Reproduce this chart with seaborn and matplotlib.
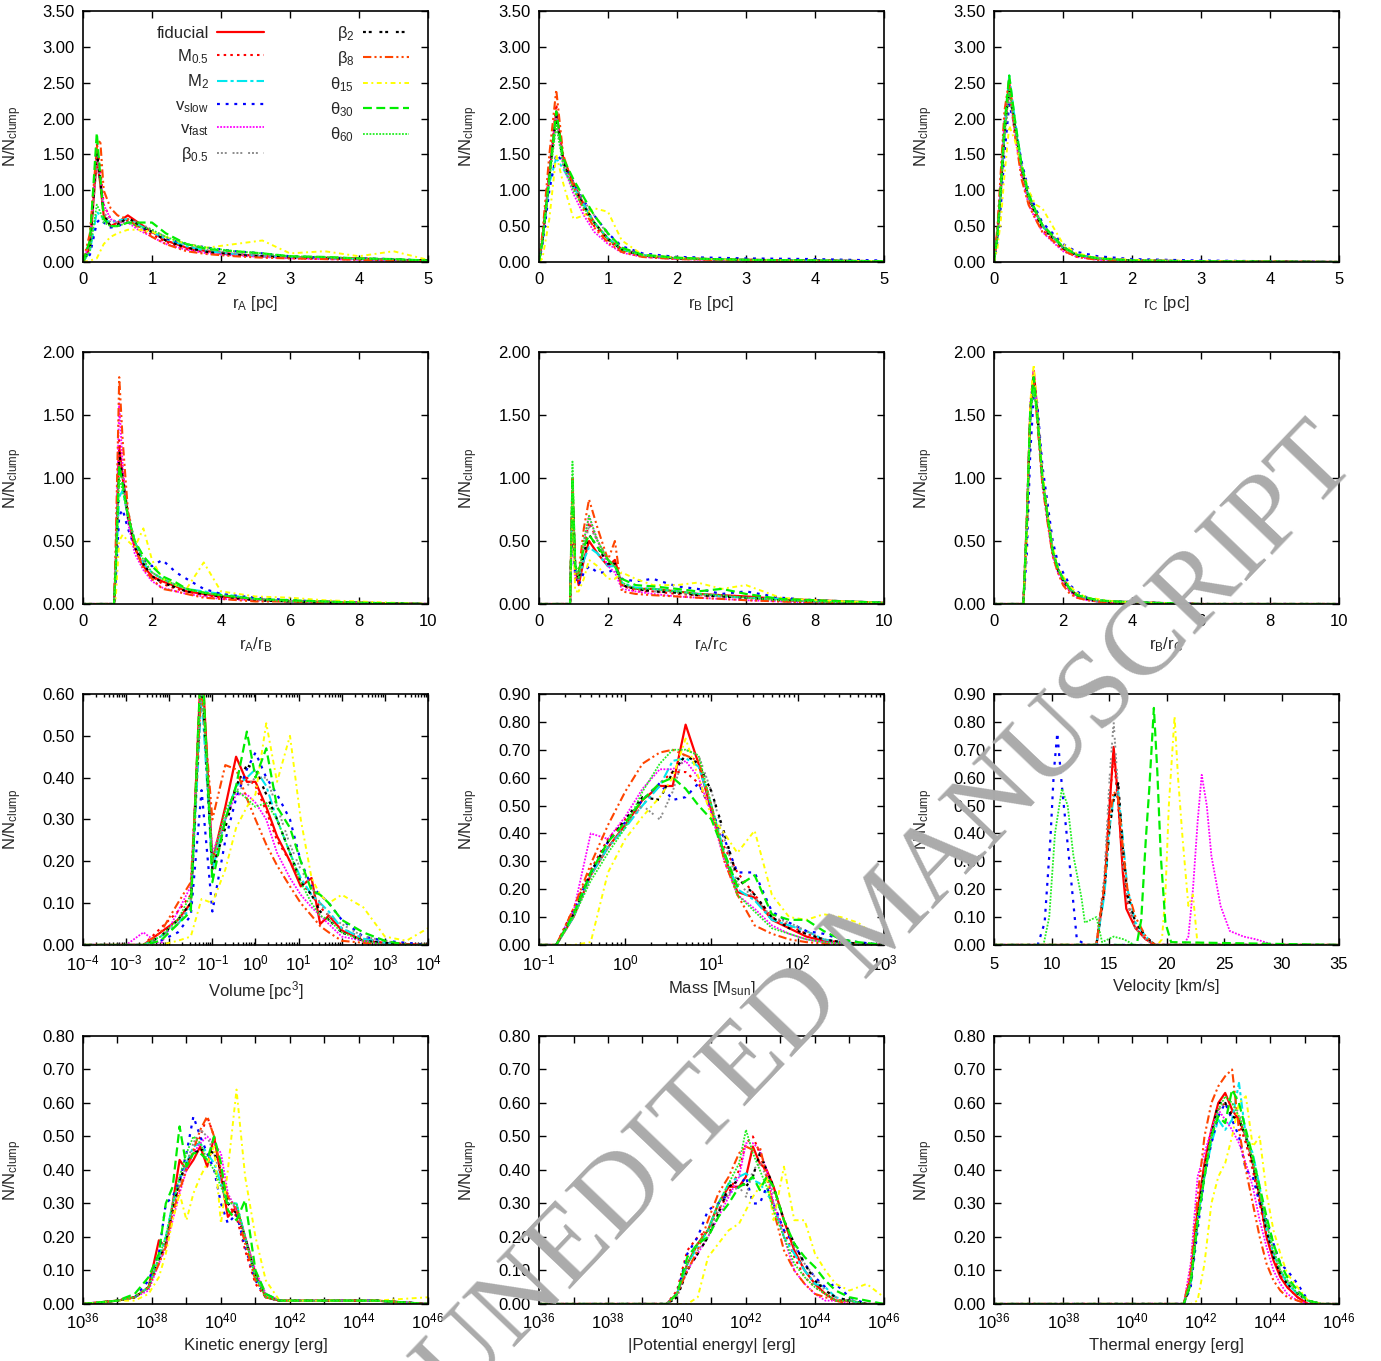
import numpy as np
import matplotlib
matplotlib.use('Agg')
import matplotlib.pyplot as plt
import seaborn as sns
from matplotlib.ticker import (FixedLocator, FuncFormatter, LogLocator, NullLocator,
                               FormatStrFormatter, MultipleLocator)

# ---------------------------------------------------------------- series
SERIES = ['fiducial', 'M$_{0.5}$', 'M$_{2}$', r'v$_{\rm slow}$', r'v$_{\rm fast}$',
          'β$_{0.5}$', 'β$_{2}$', 'β$_{8}$', 'θ$_{15}$', 'θ$_{30}$', 'θ$_{60}$']

# ---------------------------------------------------------------- panel 1: r_A [pc]
RA_X = [0, 0.1, 0.2, 0.25, 0.3, 0.4, 0.5, 0.65, 0.8, 1.0, 1.2, 1.5, 1.8, 2.2, 2.6, 3.0, 3.5, 4.0, 4.5, 5.0]
RA_Y = [
    [0, 0.2, 1.45, 1.1, 0.65, 0.5, 0.55, 0.65, 0.55, 0.42, 0.3, 0.2, 0.15, 0.11, 0.08, 0.07, 0.06, 0.05, 0.03, 0.02],
    [0, 0.3, 1.65, 1.3, 0.8, 0.6, 0.55, 0.58, 0.5, 0.38, 0.28, 0.18, 0.13, 0.1, 0.08, 0.06, 0.05, 0.04, 0.03, 0.02],
    [0, 0.15, 0.7, 0.65, 0.6, 0.55, 0.58, 0.6, 0.52, 0.42, 0.32, 0.22, 0.15, 0.11, 0.08, 0.07, 0.05, 0.04, 0.03, 0.02],
    [0, 0.1, 0.55, 0.6, 0.55, 0.48, 0.5, 0.55, 0.5, 0.42, 0.33, 0.25, 0.2, 0.15, 0.12, 0.08, 0.06, 0.05, 0.04, 0.02],
    [0, 0.3, 1.5, 1.2, 0.8, 0.6, 0.55, 0.55, 0.45, 0.35, 0.25, 0.17, 0.12, 0.09, 0.07, 0.05, 0.04, 0.03, 0.02, 0.01],
    [0, 0.2, 1.4, 1.1, 0.7, 0.55, 0.55, 0.6, 0.55, 0.45, 0.35, 0.25, 0.17, 0.12, 0.09, 0.07, 0.05, 0.04, 0.03, 0.02],
    [0, 0.2, 1.55, 1.15, 0.65, 0.5, 0.52, 0.62, 0.52, 0.42, 0.3, 0.2, 0.14, 0.1, 0.08, 0.06, 0.05, 0.04, 0.03, 0.02],
    [0, 0.4, 1.6, 1.7, 1.0, 0.75, 0.65, 0.6, 0.48, 0.35, 0.25, 0.15, 0.11, 0.08, 0.06, 0.05, 0.04, 0.03, 0.02, 0.01],
    [0, 0.02, 0.05, 0.15, 0.25, 0.35, 0.4, 0.45, 0.45, 0.42, 0.35, 0.25, 0.2, 0.25, 0.3, 0.12, 0.15, 0.08, 0.15, 0.03],
    [0, 0.3, 1.8, 1.2, 0.6, 0.5, 0.5, 0.55, 0.55, 0.55, 0.4, 0.25, 0.18, 0.15, 0.12, 0.08, 0.07, 0.05, 0.04, 0.02],
    [0, 0.15, 0.8, 0.7, 0.55, 0.5, 0.5, 0.55, 0.5, 0.45, 0.35, 0.25, 0.2, 0.15, 0.12, 0.08, 0.07, 0.05, 0.04, 0.02],
]

# ---------------------------------------------------------------- panel 2: r_B [pc]
RB_X = [0, 0.05, 0.15, 0.25, 0.35, 0.5, 0.65, 0.8, 1.0, 1.2, 1.5, 2.0, 2.5, 3.0, 4.0, 5.0]
RB_Y = [
    [0, 0.3, 1.2, 2.1, 1.45, 1.1, 0.8, 0.55, 0.32, 0.18, 0.09, 0.05, 0.04, 0.03, 0.02, 0.01],
    [0, 0.35, 1.3, 2.2, 1.4, 1.05, 0.75, 0.5, 0.3, 0.16, 0.08, 0.05, 0.03, 0.03, 0.02, 0.01],
    [0, 0.3, 1.1, 1.45, 1.3, 1.05, 0.8, 0.55, 0.33, 0.18, 0.1, 0.05, 0.04, 0.03, 0.02, 0.01],
    [0, 0.25, 1.0, 1.5, 1.4, 1.1, 0.85, 0.65, 0.4, 0.22, 0.12, 0.07, 0.06, 0.05, 0.04, 0.02],
    [0, 0.35, 1.3, 2.1, 1.35, 0.95, 0.65, 0.42, 0.25, 0.13, 0.07, 0.04, 0.03, 0.02, 0.01, 0.01],
    [0, 0.3, 1.15, 2.0, 1.4, 1.1, 0.85, 0.65, 0.38, 0.2, 0.1, 0.06, 0.04, 0.03, 0.02, 0.01],
    [0, 0.3, 1.2, 2.05, 1.4, 1.05, 0.78, 0.55, 0.32, 0.17, 0.09, 0.05, 0.04, 0.03, 0.02, 0.01],
    [0, 0.4, 1.5, 2.4, 1.5, 1.05, 0.72, 0.48, 0.27, 0.14, 0.07, 0.04, 0.03, 0.02, 0.01, 0.01],
    [0, 0.05, 0.6, 1.5, 1.1, 0.6, 0.65, 0.75, 0.7, 0.3, 0.1, 0.06, 0.04, 0.03, 0.02, 0.01],
    [0, 0.3, 1.2, 2.1, 1.45, 1.15, 0.9, 0.65, 0.4, 0.2, 0.1, 0.06, 0.04, 0.03, 0.02, 0.01],
    [0, 0.3, 1.15, 1.9, 1.35, 1.0, 0.75, 0.55, 0.32, 0.17, 0.09, 0.05, 0.04, 0.03, 0.02, 0.01],
]

# ---------------------------------------------------------------- panel 3: r_C [pc]
RC_X = [0, 0.05, 0.1, 0.15, 0.22, 0.3, 0.4, 0.5, 0.6, 0.7, 0.85, 1.0, 1.2, 1.5, 2.0, 3.0, 5.0]
RC_Y = [
    [0, 0.4, 1.0, 1.8, 2.5, 1.9, 1.3, 0.9, 0.7, 0.5, 0.35, 0.2, 0.1, 0.05, 0.02, 0.01, 0.0],
    [0, 0.4, 1.1, 1.9, 2.4, 1.8, 1.25, 0.85, 0.65, 0.45, 0.3, 0.18, 0.09, 0.04, 0.02, 0.01, 0.0],
    [0, 0.35, 1.0, 1.8, 2.6, 2.0, 1.35, 0.9, 0.7, 0.5, 0.35, 0.2, 0.1, 0.05, 0.02, 0.01, 0.0],
    [0, 0.3, 0.8, 1.5, 2.2, 1.9, 1.4, 1.0, 0.75, 0.55, 0.4, 0.25, 0.14, 0.08, 0.04, 0.02, 0.0],
    [0, 0.45, 1.2, 2.0, 2.4, 1.8, 1.2, 0.8, 0.6, 0.42, 0.28, 0.15, 0.07, 0.03, 0.01, 0.01, 0.0],
    [0, 0.35, 0.95, 1.7, 2.3, 1.9, 1.35, 0.95, 0.72, 0.52, 0.37, 0.22, 0.11, 0.05, 0.02, 0.01, 0.0],
    [0, 0.4, 1.05, 1.8, 2.45, 1.9, 1.3, 0.9, 0.68, 0.48, 0.33, 0.19, 0.09, 0.05, 0.02, 0.01, 0.0],
    [0, 0.5, 1.3, 2.1, 2.55, 1.8, 1.15, 0.8, 0.6, 0.42, 0.3, 0.16, 0.07, 0.03, 0.01, 0.01, 0.0],
    [0, 0.2, 0.6, 1.2, 1.9, 1.7, 1.35, 1.0, 0.8, 0.75, 0.5, 0.25, 0.12, 0.06, 0.03, 0.01, 0.0],
    [0, 0.4, 1.1, 1.9, 2.6, 2.0, 1.35, 0.95, 0.72, 0.52, 0.37, 0.21, 0.1, 0.05, 0.02, 0.01, 0.0],
    [0, 0.35, 1.0, 1.75, 2.4, 1.9, 1.3, 0.9, 0.7, 0.5, 0.35, 0.2, 0.1, 0.05, 0.02, 0.01, 0.0],
]

# ---------------------------------------------------------------- panel 4: r_A/r_B
AB_X = [0, 0.9, 0.95, 1.05, 1.15, 1.3, 1.5, 1.75, 2.0, 2.3, 2.7, 3.0, 3.5, 4.0, 5.0, 6.0, 7.0, 8.0, 10.0]
AB_Y = [
    [0, 0, 0.3, 1.25, 1.0, 0.7, 0.45, 0.3, 0.22, 0.18, 0.14, 0.1, 0.08, 0.06, 0.04, 0.02, 0.02, 0.01, 0.0],
    [0, 0, 0.3, 1.3, 1.05, 0.7, 0.45, 0.3, 0.22, 0.16, 0.12, 0.1, 0.07, 0.05, 0.03, 0.02, 0.01, 0.01, 0.0],
    [0, 0, 0.25, 0.85, 0.9, 0.7, 0.5, 0.32, 0.25, 0.2, 0.15, 0.12, 0.1, 0.08, 0.04, 0.02, 0.01, 0.01, 0.0],
    [0, 0, 0.2, 0.7, 0.75, 0.6, 0.45, 0.35, 0.3, 0.35, 0.25, 0.2, 0.12, 0.08, 0.05, 0.03, 0.02, 0.01, 0.0],
    [0, 0, 0.4, 1.6, 1.1, 0.65, 0.4, 0.27, 0.18, 0.13, 0.1, 0.08, 0.06, 0.04, 0.03, 0.02, 0.01, 0.01, 0.0],
    [0, 0, 0.3, 1.15, 1.0, 0.75, 0.5, 0.35, 0.25, 0.2, 0.15, 0.12, 0.09, 0.07, 0.04, 0.02, 0.02, 0.01, 0.0],
    [0, 0, 0.3, 1.2, 1.0, 0.7, 0.45, 0.32, 0.22, 0.17, 0.13, 0.1, 0.08, 0.06, 0.03, 0.02, 0.01, 0.01, 0.0],
    [0, 0, 0.5, 1.8, 1.3, 0.75, 0.45, 0.28, 0.2, 0.12, 0.1, 0.08, 0.05, 0.04, 0.02, 0.02, 0.01, 0.01, 0.0],
    [0, 0, 0.05, 0.5, 0.55, 0.5, 0.45, 0.6, 0.35, 0.2, 0.15, 0.12, 0.33, 0.1, 0.06, 0.05, 0.03, 0.02, 0.0],
    [0, 0, 0.3, 1.1, 0.95, 0.7, 0.5, 0.38, 0.3, 0.22, 0.17, 0.12, 0.09, 0.07, 0.04, 0.03, 0.02, 0.01, 0.0],
    [0, 0, 0.3, 1.0, 0.9, 0.7, 0.5, 0.35, 0.25, 0.2, 0.15, 0.12, 0.09, 0.07, 0.04, 0.02, 0.02, 0.01, 0.0],
]

# ---------------------------------------------------------------- panel 5: r_A/r_C
AC_X = [0, 0.9, 0.97, 1.05, 1.15, 1.3, 1.45, 1.7, 2.0, 2.2, 2.4, 2.8, 3.3, 4.0, 4.6, 5.3, 6.0, 7.0, 8.0, 9.0, 10.0]
AC_Y = [
    [0, 0, 0.9, 0.3, 0.15, 0.35, 0.5, 0.4, 0.3, 0.35, 0.15, 0.12, 0.12, 0.1, 0.08, 0.07, 0.06, 0.04, 0.03, 0.02, 0.01],
    [0, 0, 0.95, 0.25, 0.2, 0.45, 0.65, 0.5, 0.35, 0.3, 0.15, 0.1, 0.1, 0.08, 0.07, 0.06, 0.05, 0.03, 0.02, 0.01, 0.01],
    [0, 0, 0.85, 0.3, 0.2, 0.35, 0.45, 0.4, 0.3, 0.3, 0.17, 0.13, 0.12, 0.1, 0.08, 0.06, 0.05, 0.04, 0.02, 0.02, 0.01],
    [0, 0, 0.7, 0.2, 0.15, 0.25, 0.3, 0.25, 0.25, 0.28, 0.2, 0.18, 0.2, 0.14, 0.12, 0.08, 0.1, 0.05, 0.03, 0.02, 0.01],
    [0, 0, 1.0, 0.2, 0.2, 0.5, 0.7, 0.5, 0.3, 0.25, 0.12, 0.1, 0.08, 0.06, 0.05, 0.04, 0.03, 0.02, 0.01, 0.01, 0.0],
    [0, 0, 0.9, 0.25, 0.2, 0.45, 0.62, 0.5, 0.35, 0.3, 0.15, 0.12, 0.1, 0.09, 0.07, 0.06, 0.05, 0.03, 0.02, 0.01, 0.01],
    [0, 0, 0.9, 0.3, 0.2, 0.4, 0.55, 0.45, 0.32, 0.32, 0.15, 0.12, 0.1, 0.09, 0.07, 0.06, 0.05, 0.03, 0.02, 0.01, 0.01],
    [0, 0, 1.0, 0.2, 0.25, 0.6, 0.83, 0.6, 0.35, 0.5, 0.1, 0.08, 0.07, 0.06, 0.05, 0.04, 0.03, 0.02, 0.01, 0.01, 0.0],
    [0, 0, 0.8, 0.1, 0.1, 0.2, 0.35, 0.3, 0.2, 0.2, 0.25, 0.2, 0.15, 0.15, 0.17, 0.12, 0.15, 0.05, 0.03, 0.02, 0.01],
    [0, 0, 1.0, 0.3, 0.25, 0.45, 0.55, 0.45, 0.35, 0.3, 0.2, 0.15, 0.14, 0.12, 0.1, 0.12, 0.08, 0.04, 0.03, 0.02, 0.01],
    [0, 0, 1.13, 0.3, 0.2, 0.5, 0.7, 0.5, 0.35, 0.3, 0.17, 0.12, 0.12, 0.1, 0.08, 0.07, 0.05, 0.03, 0.02, 0.01, 0.01],
]

# ---------------------------------------------------------------- panel 6: r_B/r_C
BC_X = [0, 0.85, 0.95, 1.05, 1.15, 1.25, 1.4, 1.55, 1.7, 1.85, 2.0, 2.2, 2.4, 2.7, 3.0, 3.5, 4.5, 6.0, 10.0]
BC_Y = [
    [0, 0, 0.6, 1.5, 1.85, 1.55, 1.0, 0.7, 0.42, 0.28, 0.2, 0.12, 0.07, 0.04, 0.02, 0.02, 0.01, 0.0, 0.0],
    [0, 0, 0.65, 1.55, 1.8, 1.5, 0.98, 0.68, 0.4, 0.27, 0.18, 0.1, 0.06, 0.04, 0.02, 0.01, 0.01, 0.0, 0.0],
    [0, 0, 0.6, 1.45, 1.75, 1.55, 1.0, 0.7, 0.43, 0.28, 0.2, 0.12, 0.08, 0.04, 0.02, 0.02, 0.01, 0.0, 0.0],
    [0, 0, 0.4, 1.2, 1.65, 1.6, 1.1, 0.8, 0.5, 0.33, 0.25, 0.15, 0.1, 0.05, 0.03, 0.02, 0.01, 0.0, 0.0],
    [0, 0, 0.7, 1.6, 1.85, 1.5, 0.95, 0.65, 0.38, 0.25, 0.17, 0.1, 0.05, 0.03, 0.02, 0.01, 0.01, 0.0, 0.0],
    [0, 0, 0.6, 1.5, 1.8, 1.55, 1.0, 0.7, 0.42, 0.28, 0.2, 0.11, 0.07, 0.04, 0.02, 0.02, 0.01, 0.0, 0.0],
    [0, 0, 0.62, 1.5, 1.8, 1.52, 1.0, 0.7, 0.42, 0.27, 0.19, 0.11, 0.07, 0.04, 0.02, 0.01, 0.01, 0.0, 0.0],
    [0, 0, 0.7, 1.55, 1.78, 1.45, 0.95, 0.65, 0.38, 0.25, 0.15, 0.08, 0.05, 0.03, 0.02, 0.01, 0.0, 0.0, 0.0],
    [0, 0, 0.5, 1.6, 1.9, 1.55, 1.05, 0.72, 0.45, 0.3, 0.22, 0.14, 0.09, 0.05, 0.04, 0.02, 0.01, 0.0, 0.0],
    [0, 0, 0.65, 1.55, 1.8, 1.5, 1.0, 0.7, 0.42, 0.28, 0.2, 0.12, 0.07, 0.05, 0.03, 0.02, 0.01, 0.0, 0.0],
    [0, 0, 0.7, 1.5, 1.7, 1.5, 1.0, 0.7, 0.42, 0.28, 0.2, 0.12, 0.08, 0.05, 0.03, 0.02, 0.01, 0.0, 0.0],
]

# ---------------------------------------------------------------- panel 7: Volume (log10 bin centres)
VOL_LOGX = [-4, -3.0, -2.6, -2.2, -1.8, -1.5, -1.25, -1.0, -0.7, -0.45, -0.2, 0, 0.25, 0.5, 0.8, 1.05, 1.3, 1.5, 1.7, 2.0, 2.5, 3.0, 3.5, 4.0]
VOL_Y = [
    [0, 0, 0, 0.03, 0.06, 0.1, 0.7, 0.2, 0.33, 0.45, 0.39, 0.39, 0.33, 0.26, 0.2, 0.14, 0.16, 0.05, 0.07, 0.035, 0.01, 0.005, 0.002, 0],
    [0, 0, 0, 0.04, 0.08, 0.12, 0.68, 0.18, 0.3, 0.38, 0.4, 0.38, 0.32, 0.25, 0.2, 0.15, 0.12, 0.09, 0.07, 0.04, 0.015, 0.005, 0.002, 0],
    [0, 0, 0, 0.02, 0.05, 0.09, 0.6, 0.18, 0.3, 0.38, 0.4, 0.42, 0.38, 0.3, 0.22, 0.16, 0.12, 0.1, 0.08, 0.04, 0.015, 0.005, 0, 0],
    [0, 0, 0, 0.01, 0.03, 0.07, 0.37, 0.08, 0.25, 0.35, 0.42, 0.46, 0.4, 0.36, 0.3, 0.2, 0.14, 0.12, 0.1, 0.06, 0.02, 0.01, 0.005, 0],
    [0, 0, 0.03, 0.0, 0.08, 0.14, 0.65, 0.22, 0.3, 0.36, 0.36, 0.34, 0.3, 0.22, 0.16, 0.12, 0.09, 0.07, 0.05, 0.02, 0.01, 0, 0, 0],
    [0, 0, 0, 0.02, 0.05, 0.1, 0.62, 0.2, 0.3, 0.37, 0.38, 0.4, 0.4, 0.33, 0.24, 0.18, 0.14, 0.1, 0.07, 0.05, 0.02, 0.01, 0, 0],
    [0, 0, 0, 0.02, 0.06, 0.1, 0.65, 0.18, 0.28, 0.38, 0.43, 0.42, 0.36, 0.3, 0.22, 0.15, 0.12, 0.08, 0.06, 0.03, 0.01, 0.005, 0, 0],
    [0, 0, 0, 0.03, 0.1, 0.15, 0.62, 0.3, 0.43, 0.42, 0.35, 0.3, 0.24, 0.19, 0.14, 0.1, 0.07, 0.045, 0.03, 0.01, 0.005, 0, 0, 0],
    [0, 0, 0, 0, 0.01, 0.02, 0.11, 0.1, 0.18, 0.28, 0.33, 0.36, 0.53, 0.39, 0.5, 0.3, 0.16, 0.12, 0.1, 0.12, 0.09, 0.02, 0.01, 0.04],
    [0, 0, 0, 0.01, 0.05, 0.08, 0.72, 0.15, 0.3, 0.38, 0.51, 0.4, 0.47, 0.33, 0.28, 0.2, 0.13, 0.12, 0.1, 0.06, 0.03, 0.01, 0, 0],
    [0, 0, 0, 0.02, 0.06, 0.12, 0.66, 0.2, 0.32, 0.37, 0.35, 0.33, 0.34, 0.3, 0.22, 0.15, 0.1, 0.07, 0.06, 0.03, 0.01, 0, 0, 0],
]

# ---------------------------------------------------------------- panel 8: Mass (log10 bin centres)
MASS_LOGX = [-1, -0.8, -0.6, -0.4, -0.2, 0, 0.2, 0.4, 0.55, 0.7, 0.85, 1.0, 1.15, 1.3, 1.5, 1.7, 1.9, 2.1, 2.3, 2.5, 2.7, 3.0]
MASS_Y = [
    [0, 0, 0.1, 0.25, 0.35, 0.43, 0.52, 0.57, 0.57, 0.79, 0.65, 0.48, 0.32, 0.19, 0.17, 0.09, 0.06, 0.03, 0.015, 0.01, 0.005, 0],
    [0, 0, 0.13, 0.27, 0.38, 0.45, 0.5, 0.58, 0.62, 0.62, 0.58, 0.48, 0.35, 0.26, 0.18, 0.1, 0.07, 0.04, 0.02, 0.01, 0.005, 0],
    [0, 0, 0.1, 0.25, 0.35, 0.42, 0.5, 0.57, 0.66, 0.67, 0.64, 0.5, 0.33, 0.2, 0.16, 0.09, 0.07, 0.05, 0.02, 0.01, 0.005, 0],
    [0, 0, 0.12, 0.26, 0.37, 0.44, 0.52, 0.58, 0.52, 0.53, 0.58, 0.48, 0.38, 0.26, 0.26, 0.12, 0.08, 0.05, 0.04, 0.02, 0.01, 0],
    [0, 0, 0.12, 0.4, 0.38, 0.46, 0.56, 0.63, 0.63, 0.66, 0.6, 0.47, 0.3, 0.18, 0.13, 0.07, 0.04, 0.02, 0.01, 0.005, 0, 0],
    [0, 0, 0.1, 0.25, 0.35, 0.43, 0.5, 0.45, 0.55, 0.7, 0.68, 0.55, 0.38, 0.22, 0.17, 0.1, 0.08, 0.05, 0.02, 0.01, 0.005, 0],
    [0, 0, 0.11, 0.26, 0.37, 0.45, 0.53, 0.52, 0.62, 0.68, 0.65, 0.55, 0.4, 0.24, 0.18, 0.1, 0.06, 0.04, 0.02, 0.01, 0.005, 0],
    [0, 0, 0.13, 0.29, 0.43, 0.55, 0.65, 0.69, 0.7, 0.68, 0.66, 0.5, 0.3, 0.18, 0.07, 0.04, 0.02, 0.01, 0.005, 0, 0, 0],
    [0, 0, 0, 0.01, 0.26, 0.38, 0.46, 0.53, 0.6, 0.74, 0.6, 0.46, 0.4, 0.33, 0.41, 0.18, 0.1, 0.09, 0.11, 0.1, 0.08, 0.01],
    [0, 0, 0.11, 0.26, 0.37, 0.44, 0.52, 0.58, 0.6, 0.56, 0.5, 0.45, 0.33, 0.21, 0.25, 0.11, 0.09, 0.09, 0.05, 0.02, 0.01, 0],
    [0, 0, 0.1, 0.23, 0.33, 0.42, 0.55, 0.65, 0.7, 0.7, 0.68, 0.5, 0.32, 0.18, 0.12, 0.06, 0.04, 0.02, 0.01, 0.005, 0, 0],
]

# ---------------------------------------------------------------- panel 9: Velocity [km/s]
VEL_X = [
    [5, 13.9, 14.6, 15.05, 15.4, 15.8, 16.2, 16.5, 17.3, 18.2, 19.0, 35],
    [5, 13.9, 14.6, 15.05, 15.4, 15.8, 16.2, 16.6, 17.3, 18.2, 19.0, 35],
    [5, 13.9, 14.6, 15.05, 15.4, 15.8, 16.2, 16.6, 17.3, 18.2, 19.0, 35],
    [5, 8.8, 9.4, 9.9, 10.2, 10.5, 10.9, 11.5, 12.2, 13.0, 35],
    [5, 21.5, 21.9, 22.3, 22.7, 23.06, 23.5, 23.9, 24.7, 25.5, 26.7, 27.8, 29.3, 35],
    [5, 13.9, 14.6, 15.05, 15.4, 15.8, 16.2, 16.6, 17.3, 18.2, 19.0, 35],
    [5, 13.9, 14.6, 15.05, 15.4, 15.8, 16.2, 16.6, 17.3, 18.2, 19.0, 35],
    [5, 13.9, 14.6, 15.05, 15.4, 15.8, 16.2, 16.6, 17.3, 18.2, 19.0, 35],
    [5, 19.2, 19.6, 19.9, 20.2, 20.7, 21.0, 21.4, 21.9, 22.3, 22.7, 35],
    [5, 17.4, 17.8, 18.2, 18.5, 18.9, 19.2, 19.5, 19.9, 20.4, 35],
    [5, 9.3, 9.8, 10.3, 10.9, 11.4, 11.9, 12.6, 12.9, 13.4, 13.9, 14.4, 15.4, 16.3, 17.2, 35],
]
VEL_Y = [
    [0, 0, 0.2, 0.5, 0.71, 0.52, 0.26, 0.13, 0.06, 0.02, 0, 0],
    [0, 0, 0.22, 0.52, 0.68, 0.5, 0.28, 0.15, 0.07, 0.02, 0, 0],
    [0, 0, 0.18, 0.42, 0.53, 0.55, 0.38, 0.2, 0.08, 0.03, 0, 0],
    [0, 0, 0.08, 0.38, 0.62, 0.76, 0.57, 0.32, 0.02, 0, 0],
    [0, 0, 0.03, 0.2, 0.44, 0.61, 0.5, 0.32, 0.14, 0.05, 0.03, 0.02, 0, 0],
    [0, 0, 0.25, 0.6, 0.8, 0.55, 0.3, 0.15, 0.06, 0.02, 0, 0],
    [0, 0, 0.2, 0.42, 0.52, 0.58, 0.35, 0.18, 0.08, 0.03, 0, 0],
    [0, 0, 0.22, 0.45, 0.55, 0.53, 0.35, 0.2, 0.1, 0.03, 0, 0],
    [0, 0, 0.02, 0.18, 0.5, 0.82, 0.6, 0.38, 0.14, 0.18, 0.0, 0],
    [0, 0, 0.09, 0.38, 0.56, 0.85, 0.62, 0.32, 0.08, 0.01, 0],
    [0, 0, 0.1, 0.4, 0.56, 0.5, 0.32, 0.17, 0.08, 0.09, 0.1, 0.01, 0.03, 0.02, 0, 0],
]

# ---------------------------------------------------------------- panel 10: Kinetic energy (log10 erg)
KIN_LOGX = [36, 37.0, 37.5, 37.9, 38.2, 38.4, 38.6, 38.8, 39.0, 39.2, 39.4, 39.6, 39.8, 40.0, 40.2, 40.45, 40.7, 41.0, 41.3, 41.7, 42.5, 43.5, 44.5, 46]
KIN_Y = [
    [0, 0.01, 0.02, 0.05, 0.19, 0.17, 0.3, 0.43, 0.4, 0.43, 0.47, 0.41, 0.5, 0.38, 0.26, 0.29, 0.2, 0.09, 0.02, 0.01, 0.01, 0.01, 0.01, 0],
    [0, 0.01, 0.02, 0.05, 0.13, 0.18, 0.28, 0.36, 0.42, 0.45, 0.5, 0.56, 0.5, 0.38, 0.3, 0.26, 0.16, 0.06, 0.02, 0.01, 0.01, 0.01, 0.01, 0],
    [0, 0.01, 0.02, 0.05, 0.14, 0.2, 0.3, 0.37, 0.42, 0.47, 0.48, 0.45, 0.42, 0.36, 0.3, 0.3, 0.2, 0.08, 0.03, 0.01, 0.01, 0.01, 0.01, 0],
    [0, 0.01, 0.02, 0.07, 0.15, 0.3, 0.32, 0.37, 0.45, 0.56, 0.5, 0.45, 0.4, 0.3, 0.24, 0.27, 0.17, 0.07, 0.02, 0.01, 0.01, 0.01, 0.01, 0],
    [0, 0.01, 0.02, 0.04, 0.12, 0.17, 0.25, 0.33, 0.4, 0.45, 0.48, 0.5, 0.48, 0.45, 0.33, 0.28, 0.2, 0.1, 0.03, 0.01, 0.01, 0.01, 0.01, 0],
    [0, 0.01, 0.02, 0.05, 0.13, 0.18, 0.28, 0.35, 0.42, 0.48, 0.52, 0.5, 0.45, 0.38, 0.32, 0.28, 0.2, 0.08, 0.03, 0.01, 0.01, 0.01, 0.01, 0],
    [0, 0.01, 0.02, 0.05, 0.13, 0.18, 0.28, 0.37, 0.42, 0.45, 0.46, 0.46, 0.45, 0.4, 0.3, 0.27, 0.2, 0.08, 0.02, 0.01, 0.01, 0.01, 0.01, 0],
    [0, 0.01, 0.02, 0.05, 0.12, 0.17, 0.27, 0.34, 0.4, 0.46, 0.52, 0.56, 0.5, 0.4, 0.32, 0.28, 0.18, 0.07, 0.02, 0.01, 0.01, 0.01, 0.01, 0],
    [0, 0.01, 0.01, 0.03, 0.08, 0.15, 0.25, 0.33, 0.25, 0.33, 0.38, 0.42, 0.47, 0.24, 0.4, 0.64, 0.38, 0.2, 0.07, 0.01, 0.01, 0.01, 0.01, 0.02],
    [0, 0.01, 0.03, 0.08, 0.15, 0.3, 0.35, 0.53, 0.41, 0.45, 0.45, 0.43, 0.5, 0.42, 0.28, 0.25, 0.31, 0.1, 0.03, 0.01, 0.01, 0.01, 0.01, 0],
    [0, 0.01, 0.02, 0.05, 0.14, 0.2, 0.3, 0.38, 0.45, 0.5, 0.48, 0.43, 0.4, 0.35, 0.3, 0.3, 0.2, 0.08, 0.02, 0.01, 0.01, 0.01, 0.01, 0],
]

# ---------------------------------------------------------------- panel 11: |Potential energy| (log10 erg)
POT_LOGX = [36, 39.7, 40.0, 40.3, 40.6, 40.9, 41.2, 41.5, 41.8, 42.0, 42.2, 42.4, 42.6, 42.8, 43.1, 43.4, 43.7, 44.0, 44.3, 44.6, 45.0, 45.5, 46]
POT_Y = [
    [0, 0, 0.03, 0.12, 0.18, 0.22, 0.3, 0.35, 0.35, 0.38, 0.47, 0.42, 0.4, 0.35, 0.25, 0.16, 0.1, 0.06, 0.03, 0.01, 0.01, 0, 0],
    [0, 0, 0.04, 0.16, 0.2, 0.22, 0.28, 0.33, 0.4, 0.48, 0.5, 0.45, 0.38, 0.3, 0.22, 0.14, 0.08, 0.05, 0.03, 0.01, 0.01, 0, 0],
    [0, 0, 0.03, 0.12, 0.17, 0.22, 0.3, 0.36, 0.38, 0.39, 0.37, 0.36, 0.33, 0.3, 0.2, 0.15, 0.1, 0.06, 0.05, 0.02, 0.01, 0, 0],
    [0, 0, 0.03, 0.15, 0.2, 0.28, 0.3, 0.33, 0.35, 0.38, 0.3, 0.3, 0.35, 0.3, 0.22, 0.18, 0.12, 0.08, 0.05, 0.06, 0.02, 0, 0],
    [0, 0, 0.03, 0.1, 0.15, 0.2, 0.26, 0.32, 0.38, 0.48, 0.48, 0.46, 0.4, 0.3, 0.2, 0.1, 0.06, 0.03, 0.01, 0.01, 0, 0, 0],
    [0, 0, 0.02, 0.1, 0.16, 0.2, 0.28, 0.33, 0.35, 0.32, 0.4, 0.42, 0.38, 0.33, 0.25, 0.17, 0.12, 0.08, 0.04, 0.02, 0.01, 0, 0],
    [0, 0, 0.02, 0.1, 0.15, 0.2, 0.27, 0.35, 0.37, 0.35, 0.38, 0.45, 0.4, 0.35, 0.25, 0.18, 0.12, 0.07, 0.04, 0.02, 0.01, 0, 0],
    [0, 0, 0.03, 0.1, 0.16, 0.25, 0.33, 0.38, 0.45, 0.47, 0.46, 0.47, 0.38, 0.28, 0.16, 0.1, 0.06, 0.03, 0.02, 0.01, 0, 0, 0],
    [0, 0, 0, 0, 0.02, 0.14, 0.18, 0.22, 0.24, 0.28, 0.32, 0.35, 0.38, 0.25, 0.41, 0.25, 0.25, 0.15, 0.1, 0.06, 0.04, 0.06, 0.02],
    [0, 0, 0.03, 0.14, 0.18, 0.2, 0.26, 0.3, 0.35, 0.36, 0.38, 0.34, 0.38, 0.35, 0.25, 0.18, 0.14, 0.11, 0.07, 0.04, 0.02, 0.01, 0],
    [0, 0, 0.03, 0.12, 0.18, 0.22, 0.3, 0.36, 0.42, 0.52, 0.45, 0.4, 0.35, 0.28, 0.2, 0.12, 0.08, 0.05, 0.03, 0.01, 0.01, 0, 0],
]

# ---------------------------------------------------------------- panel 12: Thermal energy (log10 erg)
THE_LOGX = [36, 41.5, 41.7, 41.9, 42.1, 42.3, 42.5, 42.7, 42.9, 43.1, 43.3, 43.5, 43.7, 43.9, 44.1, 44.3, 44.5, 44.8, 45.1, 45.5, 46]
THE_Y = [
    [0, 0, 0.08, 0.28, 0.42, 0.52, 0.6, 0.63, 0.58, 0.55, 0.5, 0.42, 0.32, 0.2, 0.13, 0.08, 0.05, 0.02, 0, 0, 0],
    [0, 0, 0.08, 0.27, 0.4, 0.5, 0.58, 0.6, 0.57, 0.54, 0.48, 0.4, 0.3, 0.2, 0.14, 0.09, 0.05, 0.02, 0, 0, 0],
    [0, 0, 0.06, 0.25, 0.38, 0.48, 0.55, 0.52, 0.55, 0.66, 0.5, 0.45, 0.35, 0.22, 0.15, 0.1, 0.06, 0.03, 0.01, 0, 0],
    [0, 0, 0.05, 0.22, 0.38, 0.48, 0.56, 0.6, 0.55, 0.5, 0.4, 0.38, 0.3, 0.25, 0.18, 0.12, 0.1, 0.06, 0.01, 0, 0],
    [0, 0, 0.12, 0.38, 0.45, 0.52, 0.58, 0.55, 0.52, 0.48, 0.42, 0.35, 0.25, 0.17, 0.1, 0.06, 0.03, 0.01, 0, 0, 0],
    [0, 0, 0.06, 0.25, 0.4, 0.5, 0.58, 0.6, 0.6, 0.57, 0.5, 0.42, 0.33, 0.24, 0.16, 0.1, 0.07, 0.04, 0.01, 0, 0],
    [0, 0, 0.06, 0.26, 0.4, 0.5, 0.6, 0.6, 0.56, 0.55, 0.5, 0.42, 0.32, 0.22, 0.14, 0.09, 0.06, 0.03, 0.01, 0, 0],
    [0, 0, 0.1, 0.32, 0.5, 0.6, 0.65, 0.68, 0.7, 0.52, 0.4, 0.3, 0.2, 0.12, 0.07, 0.04, 0.02, 0.01, 0, 0, 0],
    [0, 0, 0, 0.01, 0.12, 0.3, 0.38, 0.42, 0.5, 0.6, 0.62, 0.47, 0.5, 0.33, 0.22, 0.15, 0.09, 0.05, 0.01, 0, 0],
    [0, 0, 0.06, 0.24, 0.38, 0.5, 0.56, 0.54, 0.64, 0.6, 0.52, 0.44, 0.35, 0.26, 0.18, 0.12, 0.08, 0.04, 0.01, 0, 0],
    [0, 0, 0.07, 0.25, 0.38, 0.5, 0.58, 0.62, 0.6, 0.56, 0.5, 0.43, 0.33, 0.24, 0.16, 0.1, 0.07, 0.03, 0.01, 0, 0],
]

# ---------------------------------------------------------------- styling
COLORS = ['#ff0000', '#ff0000', '#00e8ee', '#0000ff', '#ff00ff', '#8c8c8c',
          '#000000', '#ff4500', '#ffff00', '#00ee00', '#22ee22']
DASHES = ['-', (0, (1.2, 2.0)), (0, (5, 1.5, 1.5, 1.5)), (0, (1.3, 2.6)), (0, (1, 0.8)),
          (0, (1, 1, 1, 1, 1, 3)), (0, (1.3, 1.3, 1.3, 3.5)), (0, (4, 1.5, 1, 1.5, 1, 1.5)),
          (0, (2.5, 1.8, 1, 1.8)), (0, (4, 2)), (0, (1, 0.8))]
LWS = [1.6, 1.5, 1.5, 1.6, 1.3, 1.4, 1.6, 1.5, 1.4, 1.6, 1.3]

sns.set_style('ticks')
plt.rcParams['font.family'] = ['Liberation Sans', 'DejaVu Sans']
plt.rcParams['mathtext.fontset'] = 'custom'
plt.rcParams['mathtext.rm'] = 'Liberation Sans'
plt.rcParams['mathtext.it'] = 'Liberation Sans:italic'
plt.rcParams['mathtext.bf'] = 'Liberation Sans:bold'
plt.rcParams['mathtext.default'] = 'regular'
plt.rcParams['font.size'] = 12
plt.rcParams['axes.linewidth'] = 1.2
plt.rcParams['axes.edgecolor'] = 'black'

fig = plt.figure(figsize=(13.81, 13.61), dpi=100)
COL_L = [0.0601, 0.3903, 0.7198]
W = 0.2498
ROWS = [(0.8075, 0.1844), (0.5562, 0.1852), (0.3057, 0.1844), (0.0419, 0.1969)]


def make_ax(r, c):
    b, h = ROWS[r]
    return fig.add_axes([COL_L[c], b, W, h])


def draw(ax, xs, ys, per_series_x=False):
    for i, y in enumerate(ys):
        x = xs[i] if per_series_x else xs
        sns.lineplot(x=x, y=y, ax=ax, color=COLORS[i], linestyle=DASHES[i],
                     linewidth=LWS[i], label=SERIES[i], legend=False,
                     estimator=None, sort=False)


def finish(ax, xlabel, ylim, ystep, xpad=7.5, xlabelpad=4.5):
    ax.set_ylim(*ylim)
    ax.yaxis.set_major_locator(MultipleLocator(ystep))
    ax.yaxis.set_major_formatter(FormatStrFormatter('%.2f'))
    ax.tick_params(which='both', direction='in', top=True, right=True,
                   labelsize=12, colors='black', width=1.0)
    ax.tick_params(which='major', length=5)
    ax.tick_params(axis='y', which='major', pad=6)
    ax.tick_params(axis='x', which='major', pad=xpad)
    ax.tick_params(which='minor', length=2.5)
    ax.set_xlabel(xlabel, fontsize=12, labelpad=xlabelpad)
    ax.set_ylabel(r'N/N$_{\rm clump}$', fontsize=12, labelpad=13)
    for s in ax.spines.values():
        s.set_linewidth(1.2)
        s.set_visible(True)


def pow_fmt(v, p):
    k = int(round(np.log10(v)))
    return '$10^{%d}$' % k


def energy_fmt(v, p):
    k = int(round(np.log10(v)))
    return '$10^{%d}$' % k if k % 2 == 0 else ''


# ---- row 1
for c, (xs, ys, lab) in enumerate([(RA_X, RA_Y, r'r$_{\rm A}$ [pc]'),
                                    (RB_X, RB_Y, r'r$_{\rm B}$ [pc]'),
                                    (RC_X, RC_Y, r'r$_{\rm C}$ [pc]')]):
    ax = make_ax(0, c)
    draw(ax, xs, ys)
    ax.set_xlim(0, 5)
    ax.xaxis.set_major_locator(MultipleLocator(1))
    finish(ax, lab, (0, 3.5), 0.5)
    if c == 0:
        leg = ax.legend(ncol=2, markerfirst=False, frameon=False, loc='upper right',
                        bbox_to_anchor=(0.975, 0.99), fontsize=12, handlelength=2.8,
                        handletextpad=0.5, columnspacing=4.0, labelspacing=0.40,
                        borderaxespad=0.2)

# ---- row 2
for c, (xs, ys, lab) in enumerate([(AB_X, AB_Y, r'r$_{\rm A}$/r$_{\rm B}$'),
                                    (AC_X, AC_Y, r'r$_{\rm A}$/r$_{\rm C}$'),
                                    (BC_X, BC_Y, r'r$_{\rm B}$/r$_{\rm C}$')]):
    ax = make_ax(1, c)
    draw(ax, xs, ys)
    ax.set_xlim(0, 10)
    ax.xaxis.set_major_locator(MultipleLocator(2))
    finish(ax, lab, (0, 2.0), 0.5)

# ---- row 3
ax = make_ax(2, 0)
ax.set_xscale('log')
draw(ax, 10.0 ** np.array(VOL_LOGX), VOL_Y)
ax.set_xlim(1e-4, 1e4)
ax.xaxis.set_major_locator(FixedLocator(10.0 ** np.arange(-4, 5)))
ax.xaxis.set_major_formatter(FuncFormatter(pow_fmt))
ax.xaxis.set_minor_locator(LogLocator(base=10, subs=np.arange(2, 10), numticks=50))
finish(ax, 'Volume [pc$^{3}$]', (0, 0.6), 0.1, xpad=6.5, xlabelpad=3.5)

ax = make_ax(2, 1)
ax.set_xscale('log')
draw(ax, 10.0 ** np.array(MASS_LOGX), MASS_Y)
ax.set_xlim(1e-1, 1e3)
ax.xaxis.set_major_locator(FixedLocator(10.0 ** np.arange(-1, 4)))
ax.xaxis.set_major_formatter(FuncFormatter(pow_fmt))
ax.xaxis.set_minor_locator(LogLocator(base=10, subs=np.arange(2, 10), numticks=50))
finish(ax, r'Mass [M$_{\rm sun}$]', (0, 0.9), 0.1, xpad=6.5, xlabelpad=3.5)

ax = make_ax(2, 2)
draw(ax, VEL_X, VEL_Y, per_series_x=True)
ax.set_xlim(5, 35)
ax.xaxis.set_major_locator(MultipleLocator(5))
finish(ax, 'Velocity [km/s]', (0, 0.9), 0.1, xpad=8.5, xlabelpad=5.5)

# ---- row 4
for c, (lx, ys, lab) in enumerate([(KIN_LOGX, KIN_Y, 'Kinetic energy [erg]'),
                                    (POT_LOGX, POT_Y, '|Potential energy| [erg]'),
                                    (THE_LOGX, THE_Y, 'Thermal energy [erg]')]):
    ax = make_ax(3, c)
    ax.set_xscale('log')
    draw(ax, 10.0 ** np.array(lx), ys)
    ax.set_xlim(1e36, 1e46)
    ax.xaxis.set_major_locator(FixedLocator(10.0 ** np.arange(36, 47)))
    ax.xaxis.set_major_formatter(FuncFormatter(energy_fmt))
    ax.xaxis.set_minor_locator(NullLocator())
    finish(ax, lab, (0, 0.8), 0.1, xpad=5.5, xlabelpad=5.0)

# ---- watermark
fig.text(0.644, 0.326, 'UNEDITED MANUSCRIPT', rotation=46.3, rotation_mode='anchor',
         ha='center', va='center', fontsize=80, family='Liberation Serif',
         color='#ababab', zorder=20)

fig.savefig('out.png', dpi=100)
